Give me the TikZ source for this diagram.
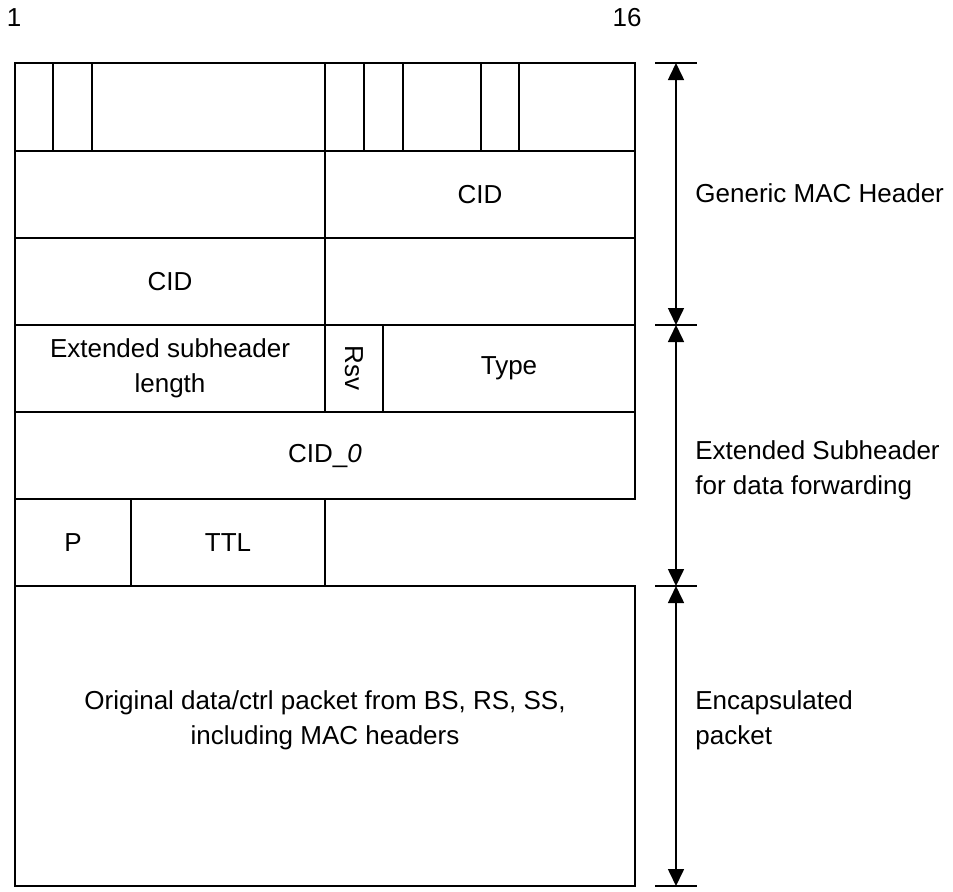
\documentclass[tikz,border=0pt]{standalone}
\usepackage{fontspec}
\setmainfont{Liberation Sans}
\usetikzlibrary{arrows.meta}

\begin{document}
\begin{tikzpicture}[
  x=0.5pt, y=-0.5pt,
  fld/.style={draw, line width=0.9pt},
  lbl/.style={font=\fontsize{13}{17.5}\selectfont, align=center, inner sep=0pt},
  side/.style={font=\fontsize{13}{17.5}\selectfont, align=left, anchor=west, inner sep=0pt},
  tick/.style={line width=0.9pt},
  dim/.style={{Triangle[length=8.5pt,width=8pt]}-{Triangle[length=8.5pt,width=8pt]}, line width=0.8pt}
]
\useasboundingbox (0,0) rectangle (953,891);
% bit numbers
\node[lbl] (b1) at (14,18) {1};
\node[lbl] (b16) at (627,18) {16};
% header and subheader fields
\foreach \n/\xa/\ya/\xb/\yb/\t in {
 ha/15/63/53/151/{}, hb/53/63/92/151/{}, hc/92/63/325/151/{},
 hd/325/63/364/151/{}, he/364/63/403/151/{}, hf/403/63/481/151/{},
 hg/481/63/519/151/{}, hh/519/63/635/151/{},
 ia/15/151/325/238/{}, ib/325/151/635/238/{CID},
 ja/15/238/325/325/{CID}, jb/325/238/635/325/{},
 xlen/15/325/325/412/{Extended subheader\\length}, xrsv/325/325/383/412/{},
 xtype/383/325/635/412/{Type},
 cidz/15/412/635/499/{CID\_\textit{0}},
 pbit/15/499/131/586/{P}, ttl/131/499/325/586/{TTL}}
{
 \draw[fld] (\xa,\ya) rectangle (\xb,\yb);
 \node[lbl] (\n) at ({(\xa+\xb)/2},{(\ya+\yb)/2}) {\t};
}
\node[lbl, rotate=-90] (rsv) at (354,368) {Rsv};
% encapsulated packet
\draw[fld] (15,586) rectangle (635,886);
\node[lbl] (orig) at (325,720) {Original data/ctrl packet from BS, RS, SS,\\including MAC headers};
% dimension arrows
\coordinate (d0) at (676,63);
\coordinate (d1) at (676,325);
\coordinate (d2) at (676,586);
\coordinate (d3) at (676,886);
\foreach \i in {0,...,3} \draw[tick] (d\i) ++(-21,0) -- ++(42,0);
\foreach \a/\b in {0/1,1/2,2/3} \draw[dim] (d\a) -- (d\b);
\node[side] (gmh) at (695,193) {Generic MAC Header};
\node[side] (esh) at (695,470) {Extended Subheader\\for data forwarding};
\node[side] (enc) at (695,720) {Encapsulated\\packet};
\end{tikzpicture}
\end{document}
